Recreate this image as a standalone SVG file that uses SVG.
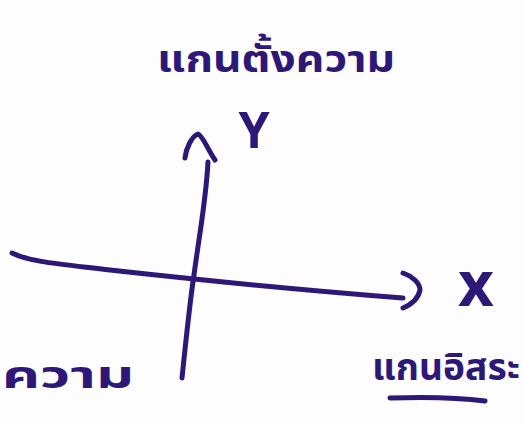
<svg xmlns="http://www.w3.org/2000/svg" width="523" height="423" viewBox="0 0 523 423">
<style>
.ink{fill:none;stroke:#2d1878;stroke-width:5;stroke-linecap:round;stroke-linejoin:round}
.t{fill:#2d1878;font-family:"Noto Sans Thai","Noto Sans","DejaVu Sans",sans-serif;font-weight:bold}
</style>
<rect width="523" height="423" fill="#fdfdfd"/>
<g id="connectors">
<path class="ink" d="M182,378 C186,340 190,300 194,275 C200,230 206,200 208,162"/>
<path class="ink" d="M185,158 C186,148 192,136 198,134 C203,136 208,150 215,160"/>
<path class="ink" d="M12,253 C30,262 60,264 110,270 C200,280 300,290 403,298"/>
<path class="ink" d="M403,273 C412,276 420,283 420,290 C418,300 410,305 403,308"/>
</g>
<g id="y-label"><text class="t" x="254" y="148" font-size="50" text-anchor="middle">Y</text></g>
<g id="x-label"><text class="t" x="476" y="306" font-size="62" text-anchor="middle">x</text></g>
<g id="top-label"><text class="t" x="157" y="72" font-size="38" textLength="238" lengthAdjust="spacingAndGlyphs">แกนตั้งความ</text></g>
<g id="left-label"><text class="t" x="2" y="388" font-size="38" textLength="132" lengthAdjust="spacingAndGlyphs">ความ</text></g>
<g id="right-label"><text class="t" x="372" y="380" font-size="38" textLength="148" lengthAdjust="spacingAndGlyphs">แกนอิสระ</text>
<path class="ink" d="M390,398 C420,397 455,397 485,401" stroke-width="6"/></g>
</svg>
